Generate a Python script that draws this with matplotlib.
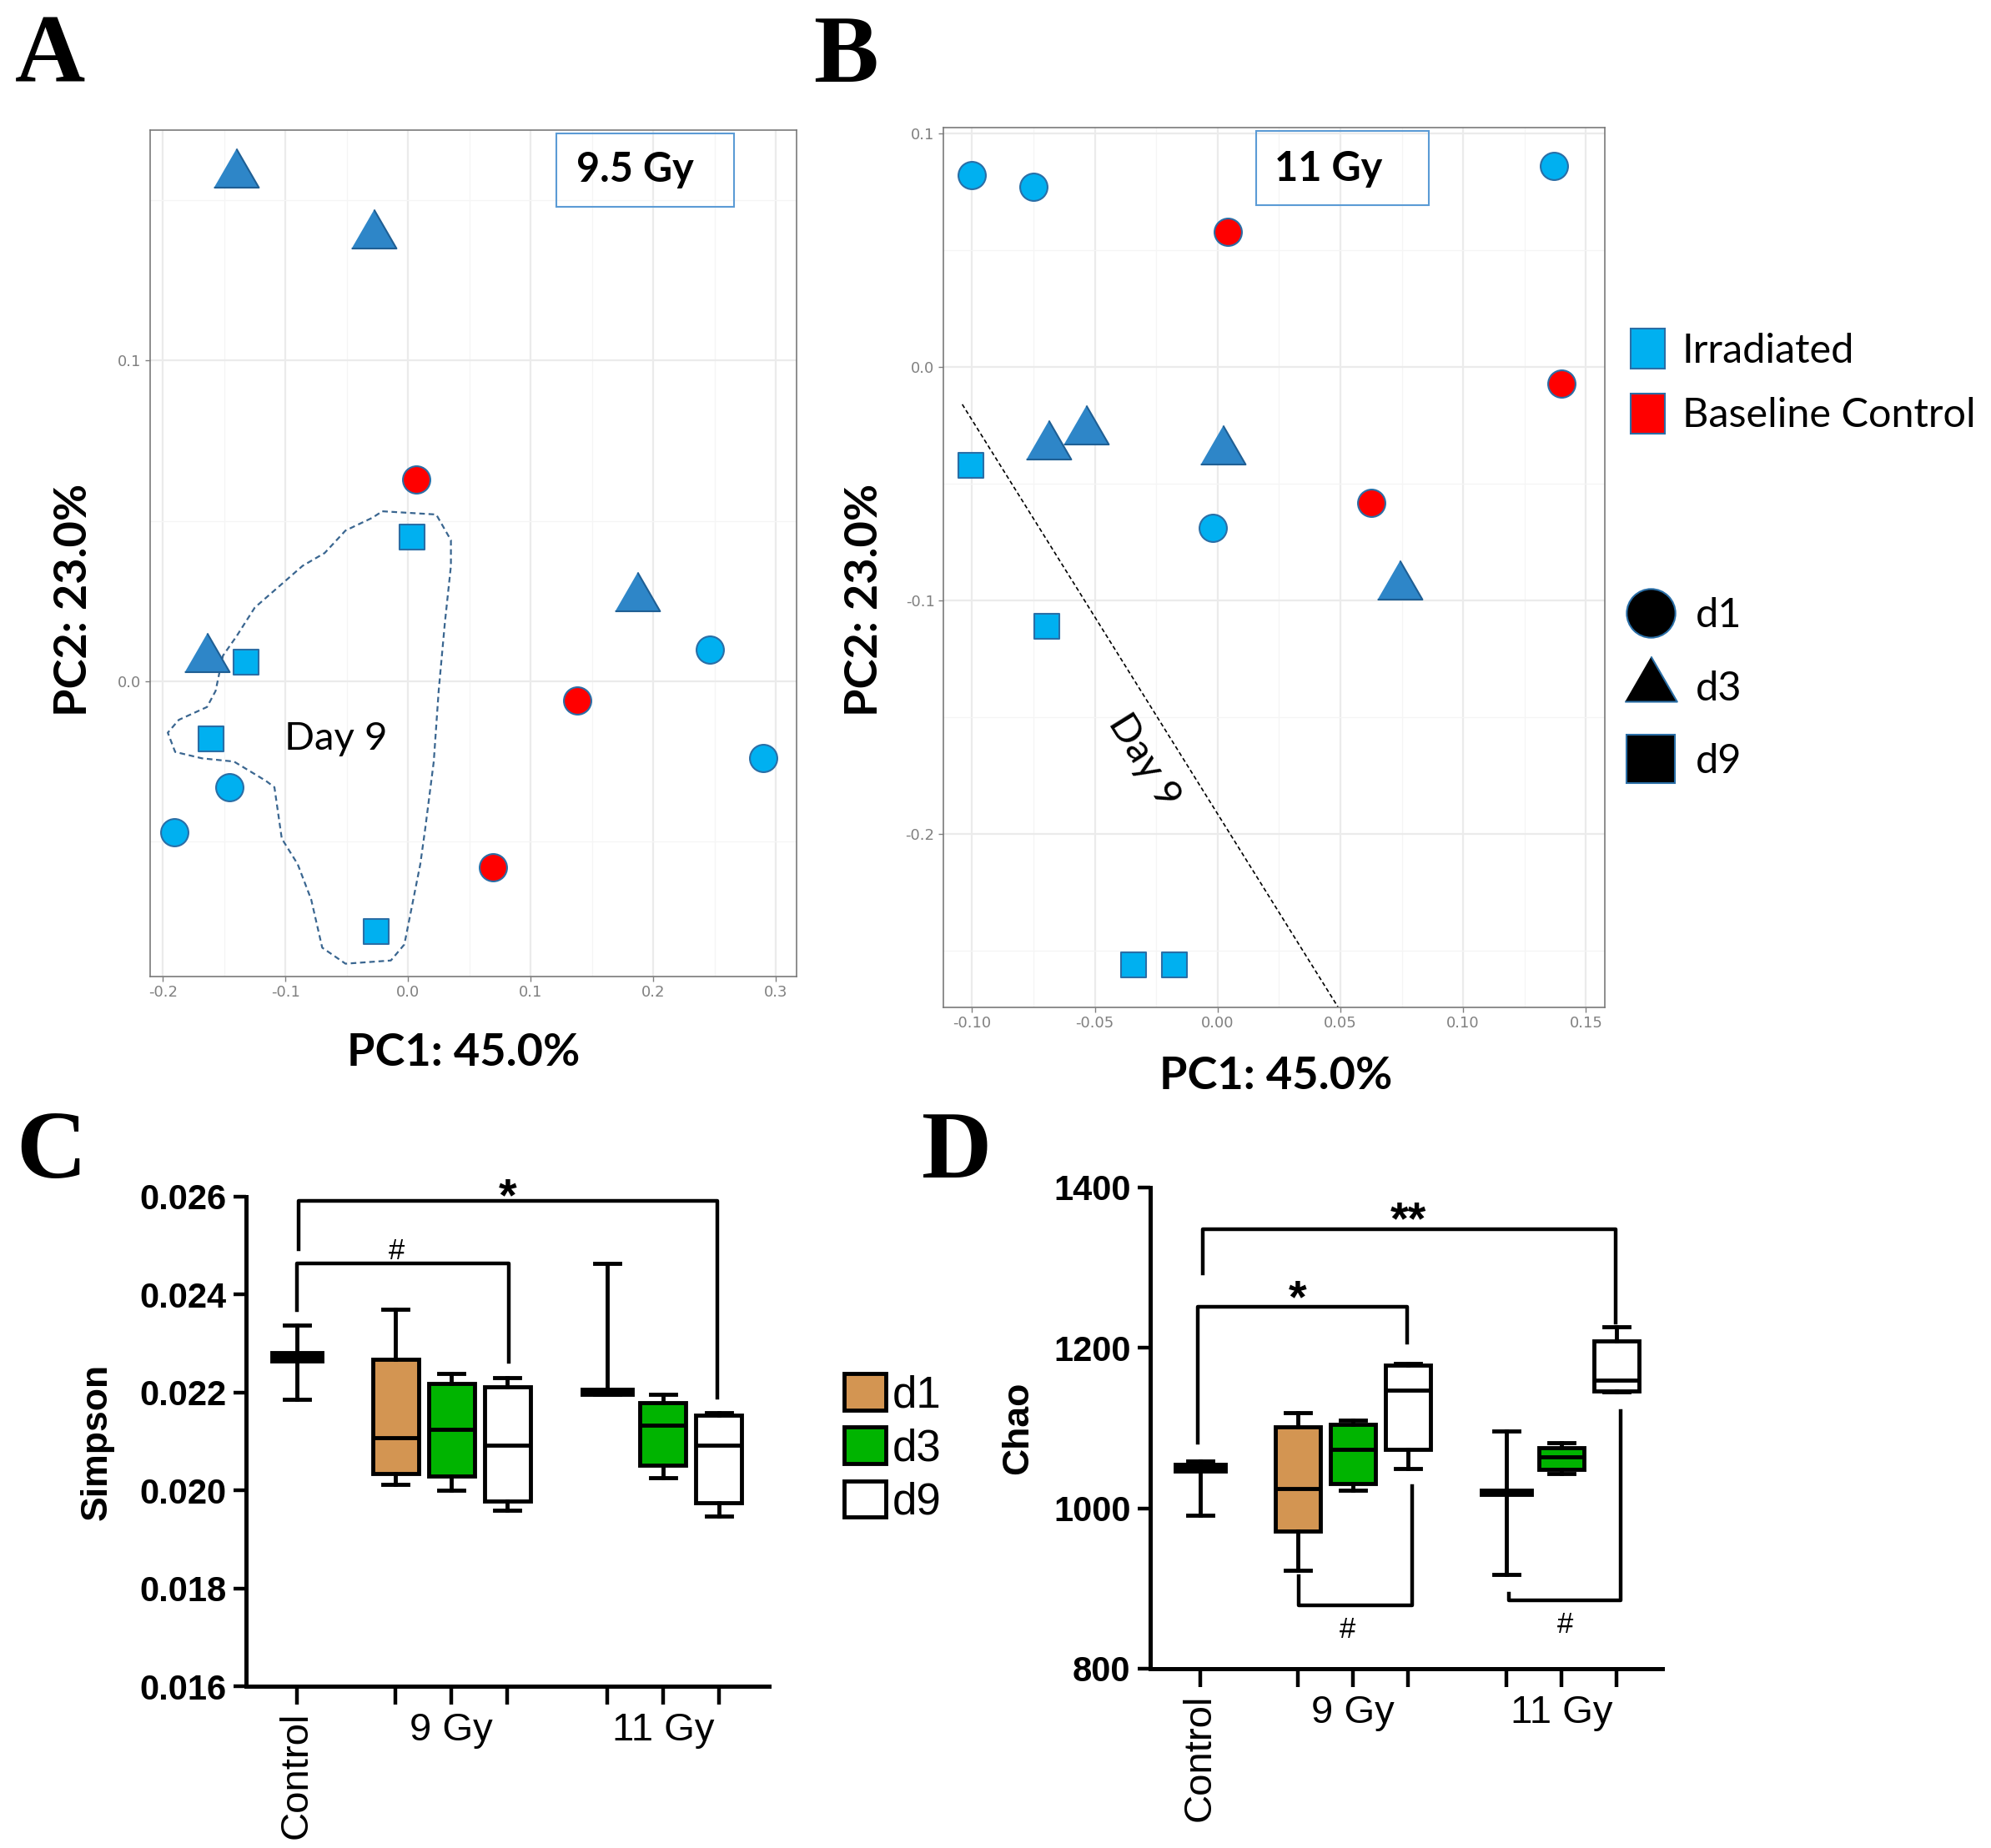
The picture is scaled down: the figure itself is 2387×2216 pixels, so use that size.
import numpy as np
import matplotlib.pyplot as plt
from matplotlib.patches import Rectangle, Patch
from matplotlib.lines import Line2D
from matplotlib.ticker import FormatStrFormatter

W, H = 2387, 2216

# ---------------- panel A : 9.5 Gy PCoA ----------------
a_circ_x = [0.246, 0.290, -0.146, -0.191]
a_circ_y = [0.010, -0.024, -0.033, -0.047]
a_red_x = [0.007, 0.138, 0.069]
a_red_y = [0.063, -0.006, -0.058]
a_tri_x = [-0.140, -0.028, 0.187, -0.164]
a_tri_y = [0.158, 0.139, 0.026, 0.007]
a_sq_x = [0.003, -0.132, -0.161, -0.026]
a_sq_y = [0.045, 0.006, -0.018, -0.078]
# dashed outline round the day 9 samples
a_hull_x = [-0.021, 0.023, 0.035, 0.035, 0.030, 0.025, 0.021, 0.014, 0.010, -0.003,
            -0.014, -0.051, -0.070, -0.079, -0.090, -0.103, -0.109, -0.116, -0.142,
            -0.168, -0.190, -0.196, -0.187, -0.164, -0.157, -0.151, -0.140, -0.125,
            -0.107, -0.086, -0.068, -0.051, -0.029]
a_hull_y = [0.053, 0.052, 0.044, 0.036, 0.018, -0.003, -0.025, -0.046, -0.057, -0.082,
            -0.087, -0.088, -0.083, -0.068, -0.057, -0.049, -0.033, -0.031, -0.025,
            -0.024, -0.022, -0.016, -0.012, -0.008, -0.003, 0.008, 0.014, 0.023,
            0.029, 0.036, 0.040, 0.047, 0.051]

# ---------------- panel B : 11 Gy PCoA ----------------
b_circ_x = [-0.100, -0.075, 0.137, -0.002]
b_circ_y = [0.082, 0.077, 0.086, -0.069]
b_red_x = [0.004, 0.140, 0.0625]
b_red_y = [0.058, -0.007, -0.058]
b_tri_x = [-0.069, -0.0535, 0.002, 0.074]
b_tri_y = [-0.034, -0.0275, -0.036, -0.094]
b_sq_x = [-0.1006, -0.0697, -0.0342, -0.0177]
b_sq_y = [-0.042, -0.111, -0.256, -0.256]
b_line_x = [-0.104, 0.049]
b_line_y = [-0.016, -0.274]

# ---------------- panels C / D : box plots ----------------
groups = ['Control', '9 Gy d1', '9 Gy d3', '9 Gy d9', '11 Gy d1', '11 Gy d3', '11 Gy d9']
pos = [0, 1.77, 2.77, 3.77, 5.56, 6.56, 7.56]
box_cols = ['black', '#D39552', '#00B400', 'white', 'black', '#00B400', 'white']
box_w = [0.9, 0.82, 0.82, 0.82, 0.9, 0.82, 0.82]
# whislo, q1, med, q3, whishi
simpson = [[0.02186, 0.02265, 0.02273, 0.02282, 0.02338],
           [0.02012, 0.02034, 0.02107, 0.02268, 0.02370],
           [0.02001, 0.02029, 0.02124, 0.02218, 0.02238],
           [0.01960, 0.01978, 0.02093, 0.02212, 0.02230],
           [0.02196, 0.02196, 0.02201, 0.02206, 0.02463],
           [0.02026, 0.02051, 0.02134, 0.02179, 0.02197],
           [0.01948, 0.01975, 0.02093, 0.02153, 0.02159]]
chao = [[991, 1046, 1050, 1055, 1059],
        [923, 972, 1025, 1102, 1119],
        [1023, 1031, 1073, 1105, 1110],
        [1050, 1073, 1147, 1178, 1181],
        [917, 1017, 1020, 1023, 1096],
        [1043, 1049, 1064, 1076, 1082],
        [1145, 1146, 1160, 1209, 1226]]

# significance brackets (x list, y list, label, label x, label y)
c_brackets = [([0.03, 0.03, 7.54, 7.54], [0.02492, 0.02592, 0.02592, 0.02189], '*', 3.77, 0.02592),
              ([0.0, 0.0, 3.79, 3.79], [0.02368, 0.02463, 0.02463, 0.02263], '#', 1.79, 0.02463)]
d_brackets = [([0.04, 0.04, 7.54, 7.54], [1293, 1348, 1348, 1232], '**', 3.77, 1348),
              ([-0.04, -0.04, 3.76, 3.76], [1082, 1251, 1251, 1207], '*', 1.76, 1251)]
d_low_brackets = [([1.78, 1.78, 3.85, 3.85], [915, 879, 879, 1028], '#', 2.67, 879),
                  ([5.6, 5.6, 7.63, 7.63], [894, 885, 885, 1121], '#', 6.62, 885)]

LIGHT = '#00B0F0'
TRI = '#2E86C8'
EDGE = '#2A6EA6'
tri_marker = [(-1, -0.577), (1, -0.577), (0, 1.155)]

fig = plt.figure(figsize=(W / 100, H / 100), dpi=100)


def px_axes(l, t, r, b):
    return fig.add_axes([l / W, 1 - b / H, (r - l) / W, (b - t) / H])


def gg_style(ax):
    ax.set_facecolor('white')
    for sp in ax.spines.values():
        sp.set_color('#7a7a7a')
        sp.set_linewidth(1.2)
    ax.grid(which='major', color='#EBEBEB', lw=1.6, zorder=0)
    ax.grid(which='minor', color='#F5F5F5', lw=1.0, zorder=0)
    ax.set_axisbelow(True)
    ax.tick_params(which='major', colors='#808080', labelsize=13, length=4, width=1)
    ax.tick_params(which='minor', length=0)


def pcoa(ax, cx, cy, rx, ry, tx, ty, sx, sy):
    ax.scatter(cx, cy, s=560, marker='o', c=LIGHT, edgecolors=EDGE, linewidths=1.5, zorder=3)
    ax.scatter(rx, ry, s=560, marker='o', c='red', edgecolors=EDGE, linewidths=1.5, zorder=3)
    ax.scatter(tx, ty, s=2000, marker=tri_marker, c=TRI, edgecolors='#1F5F94', linewidths=1.5, zorder=3)
    ax.scatter(sx, sy, s=470, marker='s', c=LIGHT, edgecolors=EDGE, linewidths=1.5, zorder=3)


# ---- A ----
axA = px_axes(180, 156, 955, 1171)
gg_style(axA)
axA.set_xlim(-0.2104, 0.317)
axA.set_ylim(-0.092, 0.1718)
axA.set_xticks(np.arange(-0.2, 0.31, 0.1))
axA.set_xticks(np.arange(-0.15, 0.3, 0.1), minor=True)
axA.set_yticks([0.0, 0.1])
axA.set_yticks([-0.05, 0.05, 0.15], minor=True)
axA.xaxis.set_major_formatter(FormatStrFormatter('%.1f'))
axA.yaxis.set_major_formatter(FormatStrFormatter('%.1f'))
axA.plot(a_hull_x + a_hull_x[:1], a_hull_y + a_hull_y[:1], ls=(0, (3, 2)), color='#3A6690', lw=1.6, zorder=2)
pcoa(axA, a_circ_x, a_circ_y, a_red_x, a_red_y, a_tri_x, a_tri_y, a_sq_x, a_sq_y)
axA.text(-0.059, -0.018, 'Day 9', fontsize=34, family='Lato', ha='center', va='center')
axA.add_patch(Rectangle((0.121, 0.148), 0.145, 0.0227, fill=False, ec='#5B9BD5', lw=1.5, zorder=4))
axA.text(0.185, 0.1595, '9.5 Gy', fontsize=35, family='Lato', weight='bold', ha='center', va='center')
fig.text(556 / W, 1 - 1262 / H, 'PC1: 45.0%', fontsize=39, family='Lato', weight='bold', ha='center', va='center')
fig.text(89 / W, 1 - 719 / H, 'PC2: 23.0%', fontsize=39, family='Lato', weight='bold', ha='center', va='center', rotation=90)

# ---- B ----
axB = px_axes(1131, 153, 1924, 1208)
gg_style(axB)
axB.set_xlim(-0.1117, 0.1577)
axB.set_ylim(-0.2742, 0.1025)
axB.set_xticks(np.arange(-0.10, 0.151, 0.05))
axB.set_xticks(np.arange(-0.075, 0.15, 0.05), minor=True)
axB.set_yticks([-0.2, -0.1, 0.0, 0.1])
axB.set_yticks([-0.25, -0.15, -0.05, 0.05], minor=True)
axB.xaxis.set_major_formatter(FormatStrFormatter('%.2f'))
axB.yaxis.set_major_formatter(FormatStrFormatter('%.1f'))
axB.plot(b_line_x, b_line_y, ls=(0, (3, 2)), color='black', lw=1.2, zorder=2)
pcoa(axB, b_circ_x, b_circ_y, b_red_x, b_red_y, b_tri_x, b_tri_y, b_sq_x, b_sq_y)
axB.text(-0.030, -0.1685, 'Day 9', fontsize=34, family='Lato', ha='center', va='center',
         rotation=-58, rotation_mode='anchor')
axB.add_patch(Rectangle((0.0156, 0.0693), 0.0703, 0.0317, fill=False, ec='#5B9BD5', lw=1.5, zorder=4))
axB.text(0.045, 0.0847, '11 Gy', fontsize=35, family='Lato', weight='bold', ha='center', va='center')
fig.text(1530 / W, 1 - 1290 / H, 'PC1: 45.0%', fontsize=39, family='Lato', weight='bold', ha='center', va='center')
fig.text(1036 / W, 1 - 719 / H, 'PC2: 23.0%', fontsize=39, family='Lato', weight='bold', ha='center', va='center', rotation=90)

leg1 = fig.legend(handles=[Patch(fc=LIGHT, ec=EDGE, lw=1.5), Patch(fc='red', ec=EDGE, lw=1.5)],
                  labels=['Irradiated', 'Baseline Control'], loc='upper left',
                  bbox_to_anchor=(1955 / W, 1 - 394 / H), frameon=False, borderpad=0, borderaxespad=0,
                  handlelength=0.85, handleheight=1.15, handletextpad=0.42, labelspacing=0.6,
                  prop={'family': 'Lato', 'size': 35})
leg2 = fig.legend(handles=[Line2D([], [], ls='none', marker='o', ms=42, mfc='black', mec=EDGE, mew=1.5),
                           Line2D([], [], ls='none', marker=tri_marker, ms=52, mfc='black', mec=EDGE, mew=1.5),
                           Line2D([], [], ls='none', marker='s', ms=42, mfc='black', mec=EDGE, mew=1.5)],
                  labels=['d1', 'd3', 'd9'], loc='upper left',
                  bbox_to_anchor=(1950 / W, 1 - 716 / H), frameon=False, borderpad=0, borderaxespad=0,
                  handlelength=1.2, handletextpad=0.5, labelspacing=0.9,
                  prop={'family': 'Lato', 'size': 35})


# ---- C / D ----
def box_panel(ax, vals, ylim, yticks, ylabels, xlim):
    stats = [dict(whislo=v[0], q1=v[1], med=v[2], q3=v[3], whishi=v[4], label=g)
             for v, g in zip(vals, groups)]
    bp = ax.bxp(stats, positions=pos, widths=box_w, patch_artist=True, showfliers=False,
                capwidths=0.45,
                boxprops=dict(lw=3.5, edgecolor='black'),
                whiskerprops=dict(lw=3.5, color='black'),
                capprops=dict(lw=3.5, color='black'),
                medianprops=dict(lw=3.5, color='black'))
    for patch, col in zip(bp['boxes'], box_cols):
        patch.set_facecolor(col)
    ax.set_xlim(*xlim)
    ax.set_ylim(*ylim)
    ax.set_yticks(yticks, ylabels)
    ax.set_xticks(pos, ['Control', '', '9 Gy', '', '', '11 Gy', ''])
    for sp in ['top', 'right']:
        ax.spines[sp].set_visible(False)
    for sp in ['left', 'bottom']:
        ax.spines[sp].set_linewidth(3.6)
    ax.tick_params(axis='y', length=11, width=3.2, labelsize=30, pad=6)
    ax.tick_params(axis='x', length=16, width=3.2, labelsize=34, pad=6)
    for lab in ax.get_yticklabels():
        lab.set_fontweight('bold')
        lab.set_family('Liberation Sans')
    for lab in ax.get_xticklabels():
        lab.set_family('Liberation Sans')
    ctrl = ax.get_xticklabels()[0]
    ctrl.set_rotation(90)
    ctrl.set_ha('center')


axC = px_axes(295, 1435, 922, 2022)
box_panel(axC, simpson, (0.016, 0.026), [0.016, 0.018, 0.020, 0.022, 0.024, 0.026],
          ['0.016', '0.018', '0.020', '0.022', '0.024', '0.026'], (-0.91, 8.46))
axC.set_ylabel('Simpson', fontsize=32, weight='bold', family='Liberation Sans', labelpad=22)
for bx, by, lab, lx, ly in c_brackets:
    axC.plot(bx, by, color='black', lw=3.2, clip_on=False)
axC.annotate('*', xy=(3.77, 0.02592), xytext=(0, -8), textcoords='offset points', ha='center',
             va='baseline', fontsize=40, weight='bold', family='Liberation Sans', annotation_clip=False)
axC.annotate('#', xy=(1.79, 0.02463), xytext=(0, 4), textcoords='offset points', ha='center',
             va='baseline', fontsize=25, family='Liberation Sans', annotation_clip=False)
axC.legend(handles=[Patch(fc=c, ec='black', lw=3.5) for c in ['#D39552', '#00B400', 'white']],
           labels=['d1', 'd3', 'd9'], loc='upper left', bbox_to_anchor=(1012 / W, 1 - 1647 / H),
           bbox_transform=fig.transFigure, frameon=False, borderpad=0, borderaxespad=0,
           handlelength=0.95, handleheight=0.9, handletextpad=0.15, labelspacing=0.25,
           prop={'family': 'Liberation Sans', 'size': 38})

axD = px_axes(1379, 1424, 1993, 2001)
box_panel(axD, chao, (800, 1400), [800, 1000, 1200, 1400], ['800', '1000', '1200', '1400'], (-0.91, 8.39))
axD.set_ylabel('Chao', fontsize=32, weight='bold', family='Liberation Sans', labelpad=16)
for bx, by, lab, lx, ly in d_brackets:
    axD.plot(bx, by, color='black', lw=3.2, clip_on=False)
    axD.annotate(lab, xy=(lx, ly), xytext=(0, -4), textcoords='offset points', ha='center',
                 va='baseline', fontsize=40, weight='bold', family='Liberation Sans', annotation_clip=False)
for bx, by, lab, lx, ly in d_low_brackets:
    axD.plot(bx, by, color='black', lw=3.2, clip_on=False)
    axD.annotate(lab, xy=(lx, ly), xytext=(0, -28), textcoords='offset points', ha='center',
                 va='baseline', fontsize=25, family='Liberation Sans', annotation_clip=False)

# panel letters
for letter, x, y in [('A', 18, 98), ('B', 975, 98), ('C', 19, 1412), ('D', 1105, 1412)]:
    fig.text(x / W, 1 - y / H, letter, fontsize=84, weight='bold', family='Liberation Serif',
             ha='left', va='baseline')

fig.savefig('out.png', dpi=100, facecolor='white')
